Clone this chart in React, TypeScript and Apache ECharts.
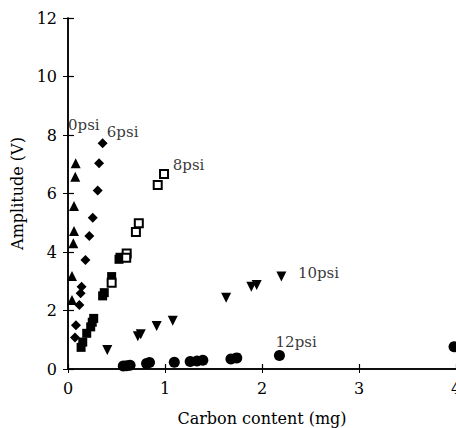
import React, { useEffect, useRef } from "react";
import * as echarts from "echarts";

const xTicks = [0, 1, 2, 3, 4];
const yTicks = [0, 2, 4, 6, 8, 10, 12];

const psi0: number[][] = [
  [0.079, 7.03], [0.075, 6.57], [0.062, 5.57], [0.062, 4.72], [0.055, 4.3], [0.041, 3.18], [0.041, 2.36],
];
const psi6: number[][] = [
  [0.357, 7.72], [0.32, 7.03], [0.306, 6.1], [0.255, 5.17], [0.22, 4.55], [0.18, 3.73],
  [0.14, 2.81], [0.13, 2.59], [0.117, 2.19], [0.082, 1.5], [0.072, 1.08],
];
const psi8: number[][] = [
  [0.99, 6.67], [0.925, 6.29], [0.73, 4.98], [0.7, 4.68], [0.605, 3.95], [0.6, 3.8], [0.45, 2.95],
];
const filledSq: number[][] = [
  [0.536, 3.82], [0.526, 3.75], [0.45, 3.16], [0.374, 2.61], [0.357, 2.5],
  [0.265, 1.73], [0.25, 1.6], [0.234, 1.44], [0.193, 1.22], [0.152, 0.92], [0.135, 0.74],
];
const psi10: number[][] = [
  [0.405, 0.65], [0.72, 1.12], [0.75, 1.19], [0.914, 1.47], [1.08, 1.65], [1.63, 2.44],
  [1.89, 2.81], [1.945, 2.87], [2.2, 3.16],
];
const psi12: number[][] = [
  [0.57, 0.1], [0.605, 0.11], [0.64, 0.13], [0.81, 0.19], [0.84, 0.22], [1.096, 0.23],
  [1.26, 0.26], [1.33, 0.27], [1.39, 0.3], [1.68, 0.34], [1.74, 0.38], [2.18, 0.46], [3.98, 0.76],
];
const labelNames = ["0psi", "6psi", "8psi", "10psi", "12psi"];
const labelX = [0.0, 0.4, 1.08, 2.37, 2.14];
const labelY = [8.34, 8.1, 6.97, 3.28, 0.93];

const FONT = "DejaVu Serif";
const INK = "#000";

export default function App() {
  const ref = useRef<HTMLDivElement>(null);
  useEffect(() => {
    if (!ref.current) return;
    const chart = echarts.init(ref.current, null, { renderer: "svg", width: 456, height: 428 });
    const axisLine = { show: true, lineStyle: { color: INK, width: 1.5 } };
    const sc = (data: number[][], symbol: string, size: number, extra: any = {}) => ({
      type: "scatter",
      data,
      symbol,
      symbolSize: size,
      itemStyle: { color: INK, opacity: 1 },
      clip: false,
      ...extra,
    });
    chart.setOption({
      animation: false,
      backgroundColor: "#fff",
      grid: { left: 68, right: 0, top: 18, bottom: 59, outerBoundsMode: "none", containLabel: false },
      xAxis: [
        {
          type: "value",
          min: xTicks[0],
          max: xTicks[xTicks.length - 1],
          interval: 1,
          position: "bottom",
          axisLine,
          axisTick: { show: true, inside: true, length: 5, lineStyle: { color: INK, width: 1.2 } },
          axisLabel: { color: INK, fontFamily: FONT, fontSize: 16, margin: 11 },
          splitLine: { show: false },
          name: "Carbon content (mg)",
          nameLocation: "middle",
          nameGap: 41,
          nameTextStyle: { color: INK, fontFamily: FONT, fontSize: 16 },
        },
        {
          type: "value",
          min: xTicks[0],
          max: xTicks[xTicks.length - 1],
          interval: 1,
          position: "top",
          axisLine,
          axisTick: { show: true, inside: true, length: 4, lineStyle: { color: INK } },
          axisLabel: { show: false },
          splitLine: { show: false },
        },
      ],
      yAxis: [
        {
          type: "value",
          min: yTicks[0],
          max: yTicks[yTicks.length - 1],
          interval: 2,
          position: "left",
          axisLine,
          axisTick: { show: true, inside: true, length: 6, lineStyle: { color: INK, width: 1.2 } },
          axisLabel: { color: INK, fontFamily: FONT, fontSize: 16, margin: 11 },
          splitLine: { show: false },
          name: "Amplitude (V)",
          nameLocation: "middle",
          nameGap: 33,
          nameTextStyle: { color: INK, fontFamily: FONT, fontSize: 16 },
        },
        {
          type: "value",
          min: yTicks[0],
          max: yTicks[yTicks.length - 1],
          interval: 2,
          position: "right",
          axisLine,
          axisTick: { show: true, inside: true, length: 5, lineStyle: { color: INK } },
          axisLabel: { show: false },
          splitLine: { show: false },
        },
      ],
      series: [
        sc(psi0, "triangle", 10),
        sc(psi6, "diamond", 10),
        sc(filledSq, "rect", 9),
        sc(psi8, "rect", 8, { itemStyle: { color: "#fff", borderColor: INK, borderWidth: 2, opacity: 1 } }),
        sc(psi10, "triangle", 10, { symbolRotate: 180 }),
        sc(psi12, "circle", 11),
        {
          type: "scatter",
          symbolSize: 0,
          clip: false,
          data: labelNames.map((n, i) => ({ name: n, value: [labelX[i], labelY[i]] })),
          label: {
            show: true,
            position: "right",
            distance: 0,
            formatter: (p: any) => p.name,
            color: INK,
            fontFamily: FONT,
            fontSize: 15,
          },
          silent: true,
        },
      ],
    });
    return () => chart.dispose();
  }, []);
  return (
    <div
      ref={ref}
      style={{ position: "absolute", left: 0, top: 0, width: 456, height: 428, background: "#fff" }}
    />
  );
}
